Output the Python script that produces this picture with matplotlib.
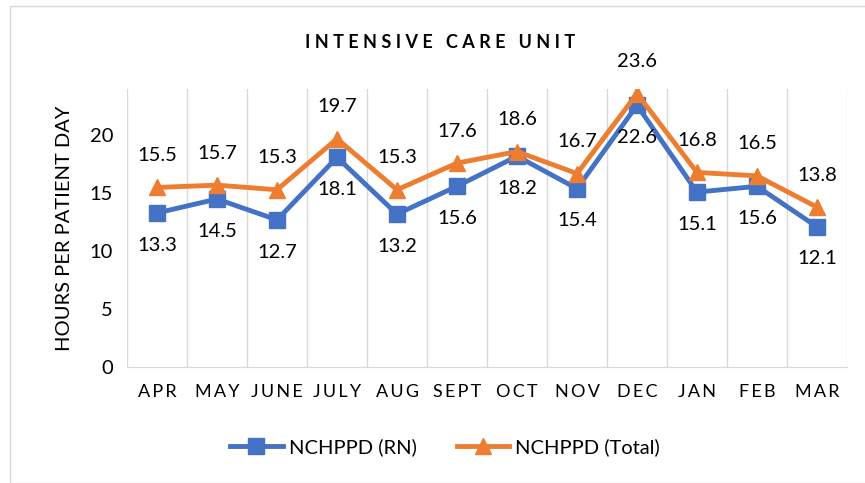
import numpy as np
import matplotlib.pyplot as plt
from matplotlib.patches import Rectangle

plt.rcParams['font.family'] = ['Lato', 'DejaVu Sans']

# Months and hours per patient day
months = ["APR", "MAY", "JUNE", "JULY", "AUG", "SEPT", "OCT", "NOV", "DEC", "JAN", "FEB", "MAR"]
rn = [13.3, 14.5, 12.7, 18.1, 13.2, 15.6, 18.2, 15.4, 22.6, 15.1, 15.6, 12.1]
total = [15.5, 15.7, 15.3, 19.7, 15.3, 17.6, 18.6, 16.7, 23.6, 16.8, 16.5, 13.8]

blue = "#4472C4"
orange = "#ED7D31"


def spaced(s, sep="\u2009"):
    # rough letter spacing like the Excel title / axis labels
    return sep.join(s)


fig = plt.figure(figsize=(8.65, 4.83), dpi=100)
fig.patches.append(Rectangle((10 / 865, 0), 1, 1 - 6 / 483, transform=fig.transFigure,
                             fill=False, edgecolor="#d9d9d9", linewidth=1))
ax = fig.add_axes([127 / 865, 1 - 367 / 483, 720 / 865, 278 / 483])

x = np.arange(len(months))
ax.plot(x, rn, color=blue, linewidth=3.5, marker="s", markersize=11, label="NCHPPD (RN)")
ax.plot(x, total, color=orange, linewidth=3.5, marker="^", markersize=12, label="NCHPPD (Total)")

for i in x:
    ax.annotate(f"{total[i]:.1f}", (i, total[i]), xytext=(0, 17), textcoords="offset points",
                ha="center", va="bottom", fontsize=14.5, color="#000000")
    ax.annotate(f"{rn[i]:.1f}", (i, rn[i]), xytext=(0, -17), textcoords="offset points",
                ha="center", va="top", fontsize=14.5, color="#000000")

ax.set_xlim(-0.5, len(months) - 0.5)
ax.set_ylim(0, 24)
ax.set_yticks([0, 5, 10, 15, 20])
ax.set_xticks(x)
ax.set_xticklabels([spaced(m) for m in months], fontsize=13)
ax.tick_params(axis="y", labelsize=14.5, length=0, pad=10)
ax.tick_params(axis="x", length=0, pad=12)

for b in np.arange(-0.5, len(months), 1.0):
    ax.axvline(b, color="#d9d9d9", linewidth=1, zorder=0)

for s in ["top", "right", "left"]:
    ax.spines[s].set_visible(False)
ax.spines["bottom"].set_color("#d9d9d9")

ax.set_ylabel("HOURS PER PATIENT DAY", fontsize=14.5, labelpad=12)
fig.text(440 / 865, 1 - 42 / 483, spaced("INTENSIVE CARE UNIT", " "), ha="center", va="center",
         fontsize=13, fontweight="bold")

ax.legend(loc="center", bbox_to_anchor=(445 / 865, 1 - 447 / 483), bbox_transform=fig.transFigure,
          ncol=2, frameon=False, fontsize=14.5, handlelength=2.6, handletextpad=0.3,
          columnspacing=2.0)

fig.savefig("out.png", dpi=100)
